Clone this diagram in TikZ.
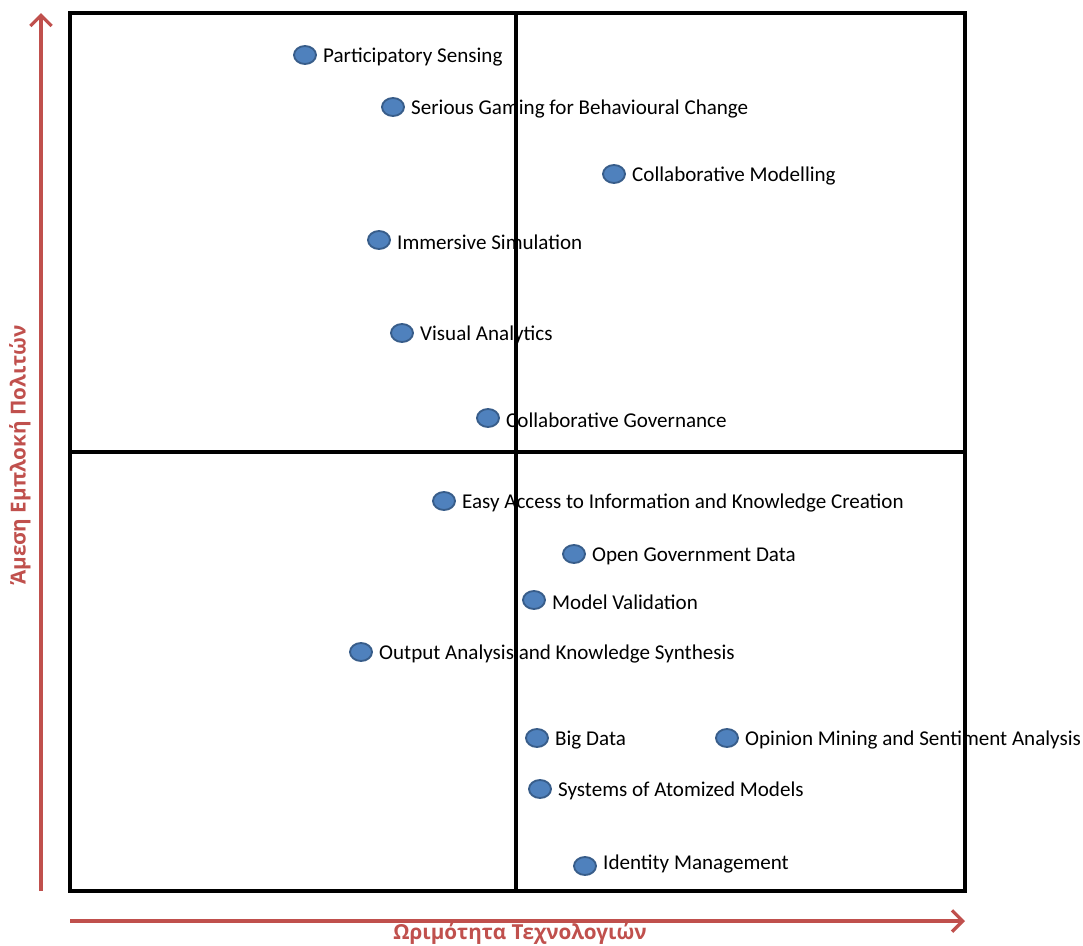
\documentclass[tikz,border=0pt]{standalone}
\usepackage{fontspec}
\setmainfont{Carlito}
\newfontfamily\axisfont{Open Sans}
\usepackage{tikz}
\usetikzlibrary{arrows.meta,positioning,shapes.geometric}

\definecolor{axisred}{HTML}{C0504D}
\definecolor{dotblue}{HTML}{4F81BD}
\definecolor{dotedge}{HTML}{385D8A}

\tikzset{
  dot/.style={ellipse,fill=dotblue,draw=dotedge,line width=1.4pt,
    minimum width=16.5pt,minimum height=13.5pt,inner sep=0pt},
  lbl/.style={inner sep=0pt,yshift=-1.5pt,font=\fontsize{15.8}{19}\selectfont},
  axis/.style={axisred,line width=2.4pt,-{Straight Barb[length=8pt,width=16pt,line width=2.4pt]}},
  axislbl/.style={axisred,inner sep=0pt,font=\axisfont\bfseries\fontsize{15.5}{19}\selectfont}
}

\begin{document}
\begin{tikzpicture}[x=0.75pt,y=-0.75pt,node distance=4.5pt]
  \useasboundingbox (0,0) rectangle (1083,946);

  \coordinate (nw) at (70,13);
  \coordinate (se) at (965,891);
  \draw[line width=2.3pt] (nw) rectangle (se);
  \draw[line width=2.3pt] (516,13) -- (516,891);
  \draw[line width=2.3pt] (70,452) -- (965,452);

  \coordinate (yfrom) at (41,891);
  \coordinate (yto) at (41,13);
  \coordinate (xfrom) at (70,921);
  \coordinate (xto) at (965,921);
  \draw[axis] (yfrom) -- (yto);
  \draw[axis] (xfrom) -- (xto);
  \node[axislbl,rotate=90] (ylab) at (20,455) {Άμεση Εμπλοκή Πολιτών};
  \node[axislbl] (xlab) at (520,934) {Ωριμότητα Τεχνολογιών};

  \node[dot] (ps) at (305,55) {};
  \node[lbl,right=of ps] (psl) {Participatory Sensing};
  \node[dot] (sg) at (393,107) {};
  \node[lbl,right=of sg] (sgl) {Serious Gaming for Behavioural Change};
  \node[dot] (cm) at (614,174) {};
  \node[lbl,right=of cm] (cml) {Collaborative Modelling};
  \node[dot] (is) at (379,240) {};
  \node[lbl,right=of is] (isl) {Immersive Simulation};
  \node[dot] (va) at (402,333) {};
  \node[lbl,right=of va] (val) {Visual Analytics};
  \node[dot] (cg) at (488,418) {};
  \node[lbl,right=of cg] (cgl) {Collaborative Governance};

  \node[dot] (ea) at (444,501) {};
  \node[lbl,right=of ea] (eal) {Easy Access to Information and Knowledge Creation};
  \node[dot] (og) at (574,554) {};
  \node[lbl,right=of og] (ogl) {Open Government Data};
  \node[dot] (mv) at (534,600) {};
  \node[lbl,right=of mv] (mvl) {Model Validation};
  \node[dot] (oa) at (361,652) {};
  \node[lbl,right=of oa] (oal) {Output Analysis and Knowledge Synthesis};
  \node[dot] (bd) at (537,738) {};
  \node[lbl,right=of bd] (bdl) {Big Data};
  \node[dot] (om) at (727,738) {};
  \node[lbl,right=of om] (oml) {Opinion Mining and Sentiment Analysis};
  \node[dot] (sa) at (540,789) {};
  \node[lbl,right=of sa] (sal) {Systems of Atomized Models};
  \node[dot] (im) at (585,866) {};
  \node[lbl,right=of im,yshift=3pt] (iml) {Identity Management};
\end{tikzpicture}
\end{document}
